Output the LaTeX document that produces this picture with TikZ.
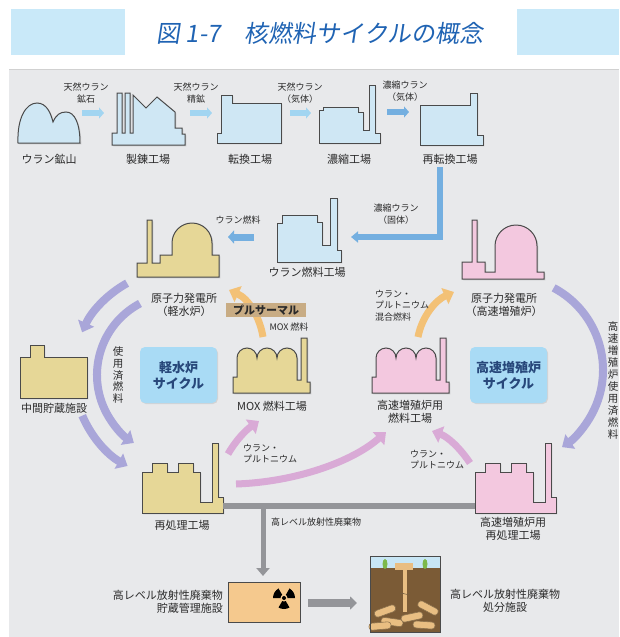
\documentclass[tikz,border=0pt]{standalone}
\usepackage{fontspec}
\setmainfont{Noto Sans CJK JP}
\newfontfamily\titlefont[FakeSlant=0.15]{Noto Sans CJK JP}
\usetikzlibrary{arrows.meta,calc,shadows}

\definecolor{panelgray}{HTML}{E8E9EB}
\definecolor{bandblue}{HTML}{C9E9F9}
\definecolor{titleblue}{HTML}{1F63B3}
\definecolor{inkgray}{HTML}{2A2A2A}
\definecolor{edgegray}{HTML}{4A4A4A}
\definecolor{ubldg}{HTML}{CFE7F4}
\definecolor{lwrtan}{HTML}{E6D797}
\definecolor{fbrpink}{HTML}{F3C8DF}
\definecolor{cyclesky}{HTML}{A9DBF5}
\definecolor{cycleink}{HTML}{27477A}
\definecolor{feedblue}{HTML}{A2D5F1}
\definecolor{feeddeep}{HTML}{74AFE0}
\definecolor{spentpurple}{HTML}{A9A6D9}
\definecolor{pupink}{HTML}{D9AAD6}
\definecolor{moxorange}{HTML}{F3C176}
\definecolor{wastegray}{HTML}{949599}
\definecolor{vaultorange}{HTML}{F5C98E}
\definecolor{plutan}{HTML}{C8AC84}
\definecolor{soil}{HTML}{7B5B36}
\definecolor{skyblue}{HTML}{C8E6F5}
\definecolor{canister}{HTML}{E9BE82}
\definecolor{shrub}{HTML}{7DB94A}

\tikzset{
  bldg/.style={draw=edgegray, line width=1pt,
    drop shadow={shadow xshift=1.3pt, shadow yshift=-1.3pt, opacity=0.25}},
  ubox/.style={bldg, fill=ubldg},
  lbox/.style={bldg, fill=lwrtan},
  fbox/.style={bldg, fill=fbrpink},
  lbl/.style={text=inkgray, align=center, inner sep=0pt, font=\fontsize{11}{13.5}\selectfont},
  note/.style={text=inkgray, align=center, inner sep=0pt, font=\fontsize{9}{11.3}\selectfont},
  vtext/.style={text=inkgray, align=center, inner sep=0pt, font=\fontsize{10.5}{11.6}\selectfont},
  feed/.style={line width=6pt, color=feedblue, -{Triangle[length=5pt,width=11pt]}},
  band/.style={line width=8pt, -{Triangle[length=10pt,width=17pt]}},
  spent/.style={band, color=spentpurple},
  pu/.style={band, line width=7pt, color=pupink},
  mox/.style={band, line width=7pt, color=moxorange},
  cyclebox/.style={fill=cyclesky, rounded corners=5pt, minimum width=77pt, minimum height=56pt,
    text=cycleink, align=center, font=\fontsize{13}{16}\selectfont\bfseries,
    drop shadow={shadow xshift=1pt, shadow yshift=-1pt, opacity=0.2}},
  logpiece/.style={fill=canister, draw=canister!60!black, line width=0.6pt, rounded corners=3pt}
}

% fuel fabrication plant with three domed halls
\newcommand\fuelworks[2]{%
  \draw[#1, shift={#2}] (0,0) -- (0,-16) -- (4,-16) -- (4,-35)
    arc[start angle=180, end angle=360, radius=10]
    arc[start angle=180, end angle=360, radius=10]
    arc[start angle=180, end angle=360, radius=10]
    -- (64,-13) -- (68,-13) -- (68,-55) -- (74,-55) -- (74,-11) -- (77,-11) -- (77,0) -- cycle;}
% reprocessing plant with stack
\newcommand\reprocworks[2]{%
  \draw[#1, shift={#2}] (0,0) -- (0,-41) -- (10,-41) -- (10,-50) -- (25,-50) -- (25,-41)
    -- (36,-41) -- (36,-50) -- (51,-50) -- (51,-41) -- (58,-41) -- (58,-11) -- (70,-11)
    -- (70,-70) -- (76,-70) -- (76,-16) -- (81,-16) -- (81,0) -- cycle;}

\begin{document}
\begin{tikzpicture}[x=1pt, y=-1pt]
	\useasboundingbox (0,0) rectangle (619,637);
	
	% heading
	\fill[bandblue] (11,9) rectangle (125,55);
	\fill[bandblue] (517,9) rectangle (619,55);
	\node[text=titleblue, inner sep=0pt] (title) at (320,33)
		{\titlefont\fontsize{24}{28}\selectfont 図 1-7　核燃料サイクルの概念};
	\fill[panelgray] (9,69) rectangle (619,637);
	\draw[black!18, line width=0.8pt] (9,69) -- (619,69);
	
	% front end of the cycle
	\draw[ubox] (18,143) .. controls (17,118) and (26,103) .. (37,103) .. controls (47,103) and (51,114) .. (53,122)
		.. controls (56,115) and (60,112) .. (66,112) .. controls (75,112) and (80,124) .. (80,143) -- cycle;
	\draw[ubox] (112,145) -- (112,133) -- (117,133) -- (117,93) -- (122,93) -- (122,133) -- (125,133) -- (125,93)
		-- (130,93) -- (130,133) -- (133,133) -- (133,95) -- (146,108) -- (157,97) -- (175,112) -- (175,128)
		-- (182,128) -- (182,134) -- (185,134) -- (185,145) -- cycle;
	\draw[ubox] (217,143) -- (217,133) -- (221,133) -- (221,95) -- (232,95) -- (232,103) -- (281,103) -- (281,143) -- cycle;
	\draw[ubox] (319,143) -- (319,110) -- (323,110) -- (323,107) -- (358,107) -- (358,112) -- (363,112) -- (363,130)
		-- (369,130) -- (369,85) -- (375,85) -- (375,133) -- (380,133) -- (380,143) -- cycle;
	\draw[ubox] (420,145) -- (420,105) -- (470,105) -- (470,93) -- (477,93) -- (477,135) -- (483,135) -- (483,145) -- cycle;
	\draw[ubox] (277,262) -- (277,223) -- (282,223) -- (282,215) -- (317,215) -- (317,222) -- (322,222) -- (322,245)
		-- (330,245) -- (330,198) -- (337,198) -- (337,250) -- (341,250) -- (341,262) -- cycle;
	
	\node[lbl] (mine) at (49,159) {ウラン鉱山};
	\node[lbl] (smelter) at (148,159) {製錬工場};
	\node[lbl] (conv) at (250,159) {転換工場};
	\node[lbl] (enrich) at (349,159) {濃縮工場};
	\node[lbl] (reconv) at (450,159) {再転換工場};
	\node[lbl] (ufuel) at (307,272) {ウラン燃料工場};
	
	\node[note] (ore) at (86,93) {天然ウラン\\鉱石};
	\node[note] (conc) at (196,93) {天然ウラン\\精鉱};
	\node[note] (hexf) at (300,93) {天然ウラン\\（気体）};
	\node[note] (enrgas) at (405,91) {濃縮ウラン\\（気体）};
	\node[note] (enrsol) at (396,214) {濃縮ウラン\\（固体）};
	\node[note] (ufnote) at (238,220) {ウラン燃料};
	
	\coordinate (ore-s) at (82,113);    \coordinate (ore-e) at (104,113);
	\coordinate (conc-s) at (190,113);  \coordinate (conc-e) at (212,113);
	\coordinate (hexf-s) at (290,113);  \coordinate (hexf-e) at (311,113);
	\coordinate (enr-s) at (387,112);   \coordinate (enr-e) at (409,112);
	\coordinate (reconv-out) at (440,167);
	\coordinate (ufuel-in) at (351,237);
	\coordinate (ufuel-out) at (254,237);
	\coordinate (lwr-in) at (228,237);
	\draw[feed] (ore-s) -- (ore-e);
	\draw[feed] (conc-s) -- (conc-e);
	\draw[feed] (hexf-s) -- (hexf-e);
	\draw[feed, color=feeddeep] (enr-s) -- (enr-e);
	\draw[feed, color=feeddeep, -{Triangle[length=7pt,width=11pt]}] (reconv-out) |- (ufuel-in);
	\draw[feed, line width=7pt, color=feeddeep, -{Triangle[length=6pt,width=13pt]}] (ufuel-out) -- (lwr-in);
	
	% reactors
	\draw[lbox] (137,277) -- (137,263) -- (147,263) -- (147,220) -- (152,220) -- (152,263) -- (160,263) -- (160,255)
		-- (172,255) -- (172,243) arc[start angle=180, end angle=360, radius=20] -- (212,255) -- (219,255) -- (219,277) -- cycle;
	\draw[fbox] (462,279) -- (462,262) -- (472,262) -- (472,220) -- (477,220) -- (477,262) -- (485,262) -- (485,272)
		-- (495,272) -- (495,246) arc[start angle=180, end angle=360, radius=21] -- (537,272) -- (544,272) -- (544,279) -- cycle;
	\node[lbl] (lwr) at (184,305) {原子力発電所\\（軽水炉）};
	\node[lbl] (fbr) at (504,305) {原子力発電所\\（高速増殖炉）};
	
	% interim storage and fuel plants
	\draw[lbox] (20,398) -- (20,357) -- (30,357) -- (30,345) -- (44,345) -- (44,357) -- (87,357) -- (87,398) -- cycle;
	\node[lbl] (interim) at (54,408) {中間貯蔵施設};
	\fuelworks{lbox}{(233,393)}
	\fuelworks{fbox}{(372,393)}
	\node[lbl] (moxplant) at (272,406) {MOX 燃料工場};
	\node[lbl] (fbrfuel) at (410,412) {高速増殖炉用\\燃料工場};
	
	\node[cyclebox] (lwcycle) at (178.5,375) {軽水炉\\サイクル};
	\node[cyclebox] (fbcycle) at (508.5,375) {高速増殖炉\\サイクル};
	
	% reprocessing
	\reprocworks{lbox}{(142,513)}
	\reprocworks{fbox}{(475,513)}
	\node[lbl] (rep) at (182,525) {再処理工場};
	\node[lbl] (fbrrep) at (513,529) {高速増殖炉用\\再処理工場};
	
	% spent fuel loops
	\coordinate (lwr-c) at (178,375);
	\coordinate (fbr-c) at (510,370);
	\draw[spent] ($(lwr-c)+(241:105)$) arc[start angle=241, end angle=204, radius=105];
	\draw[spent] ($(lwr-c)+(157:104)$) arc[start angle=157, end angle=119, radius=104];
	\draw[spent] ($(lwr-c)+(242:81)$) arc[start angle=242, end angle=123, radius=81];
	\draw[spent] ($(fbr-c)+(-62:93)$) arc[start angle=-62, end angle=56, radius=93];
	\node[vtext] (spentl) at (118,375) {使\\用\\済\\燃\\料};
	\node[vtext, font=\fontsize{10.5}{12}\selectfont] (spentr) at (613,380) {高\\速\\増\\殖\\炉\\使\\用\\済\\燃\\料};
	
	% MOX flows
	\coordinate (mox-top) at (263,337);
	\coordinate (lwr-bot) at (229,290);
	\coordinate (fbrf-top) at (418,337);
	\coordinate (fbr-bot) at (454,292);
	\draw[mox] (mox-top) .. controls (260,318) and (249,299) .. (lwr-bot);
	\draw[mox] (fbrf-top) .. controls (422,316) and (436,300) .. (fbr-bot);
	\node[fill=plutan, minimum width=80pt, minimum height=14pt, inner sep=0pt, text=inkgray,
		font=\fontsize{11}{13}\selectfont\bfseries] (pluthermal) at (266,310) {プルサーマル};
	\node[note] (moxnote) at (289,327) {MOX 燃料};
	\node[note, align=left, anchor=north west] (mixnote) at (375,290) {ウラン・\\プルトニウム\\混合燃料};
	
	% recovered uranium and plutonium
	\coordinate (rep-a) at (228,454);
	\coordinate (mox-bot) at (259,421);
	\coordinate (rep-b) at (236,484);
	\coordinate (fbrf-bl) at (386,432);
	\coordinate (fbrr-top) at (470,463);
	\coordinate (fbrf-br) at (432,431);
	\draw[pu] (rep-a) .. controls (236,440) and (246,430) .. (mox-bot);
	\draw[pu] (rep-b) .. controls (295,482) and (352,462) .. (fbrf-bl);
	\draw[pu] (fbrr-top) .. controls (460,448) and (448,437) .. (fbrf-br);
	\node[note, align=left, anchor=north west] (punote1) at (243,444) {ウラン・\\プルトニウム};
	\node[note, align=left, anchor=north west] (punote2) at (410,450) {ウラン・\\プルトニウム};
	
	% high level waste
	\coordinate (rep-e) at (223,506);
	\coordinate (fbrrep-w) at (475,506);
	\coordinate (hlw-split) at (263,506);
	\coordinate (vault-top) at (263,576);
	\draw[wastegray, line width=6pt] (rep-e) -- (fbrrep-w);
	\draw[wastegray, line width=5pt, -{Triangle[length=8pt,width=13pt]}] (hlw-split) -- (vault-top);
	\node[note, anchor=west, font=\fontsize{9}{11}\selectfont] (hlwnote) at (271,522) {高レベル放射性廃棄物};
	
	\draw[bldg, fill=vaultorange] (228,582) rectangle (300,622);
	\coordinate (trefoil) at (284,598);
	\foreach \a in {90,210,330}
	\fill[black] (trefoil) -- ($(trefoil)+(\a-30:11)$) arc[start angle=\a-30, end angle=\a+30, radius=11] -- cycle;
	\fill[vaultorange] (trefoil) circle (3.5);
	\fill[black] (trefoil) circle (2);
	\node[lbl, align=right, anchor=east, font=\fontsize{11}{13}\selectfont] (vault) at (223,602) {高レベル放射性廃棄物\\貯蔵管理施設};
	
	\coordinate (vault-e) at (308,603);
	\coordinate (repo-w) at (357,603);
	\draw[wastegray, line width=8pt, -{Triangle[length=7pt,width=13pt]}] (vault-e) -- (repo-w);
	
	% geological disposal
	\fill[skyblue] (370,556) rectangle (440,568);
	\fill[soil] (370,568) rectangle (440,632);
	\fill[shrub] (385,564) ellipse (2.5 and 5);
	\fill[shrub] (425,564) ellipse (2.5 and 5);
	\fill[canister] (395,563) rectangle (413,570);
	\fill[canister] (403,570) rectangle (407,612);
	\draw[canister!50!black, line width=0.6pt] (400,594) .. controls (403,591) and (406,597) .. (410,593);
	\foreach \x/\y/\r in {385/611/20, 392/622/-8, 412/617/12, 424/625/-4, 428/608/-28, 380/626/5}
	\draw[logpiece, shift={(\x,\y)}, rotate=\r] (-11,-3.5) rectangle (11,3.5);
	\draw[edgegray, line width=1pt] (370,556) rectangle (440,632);
	\node[lbl, font=\fontsize{11}{13}\selectfont] (repo) at (505,601) {高レベル放射性廃棄物\\処分施設};
\end{tikzpicture}
\end{document}
